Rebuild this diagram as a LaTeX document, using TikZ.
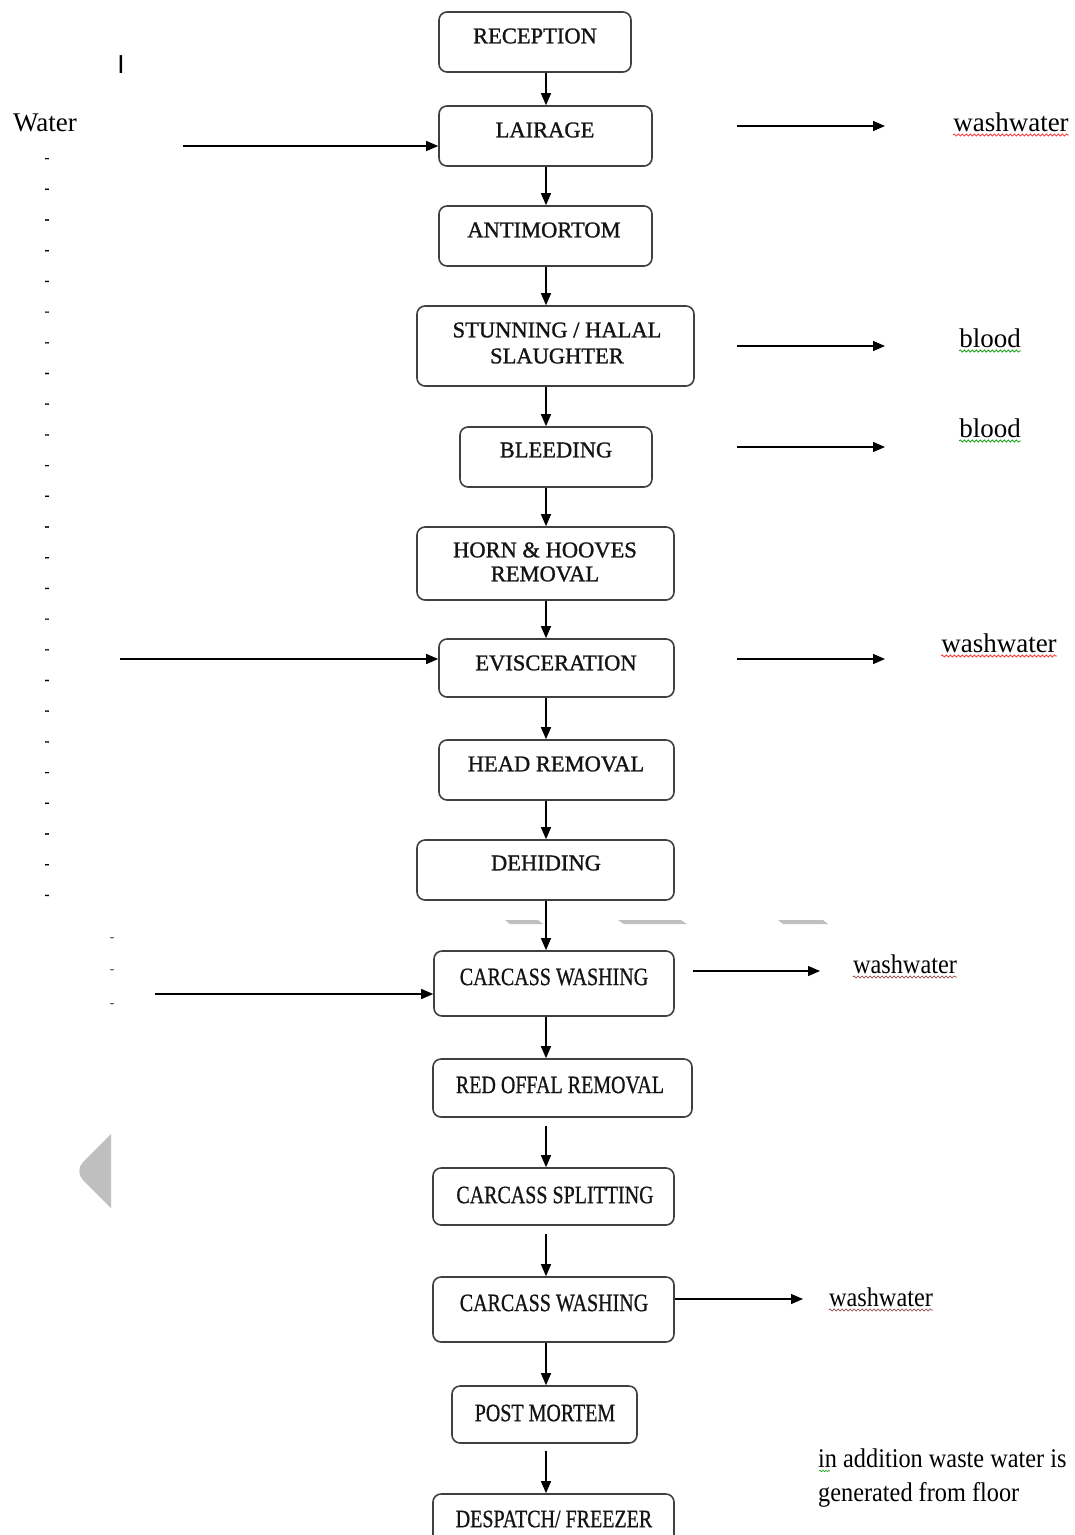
\documentclass[tikz,border=0pt]{standalone}
\usepackage{fontspec}
\setmainfont{Liberation Serif}
\newfontfamily\boxfont[FakeBold=1.2]{Liberation Serif}
\newfontfamily\lowboxfont[FakeBold=0.8]{Liberation Serif}
\newfontfamily\barfont{Liberation Sans}
\usetikzlibrary{arrows.meta,decorations.pathmorphing,calc}
\newcommand\narrowtxt[1]{\scalebox{0.8}[1]{#1}}
\newcommand\narrowlbl[1]{\scalebox{0.9}[1]{#1}}
\begin{document}
\begin{tikzpicture}[x=1pt,y=-1pt,
  box/.style={draw=black!75, line width=1.6pt, rounded corners=8pt, inner sep=0pt},
  utxt/.style={font=\boxfont\fontsize{22.5}{27}\selectfont, align=center, inner sep=0pt, text=black!92},
  ltxt/.style={font=\lowboxfont\fontsize{25}{28}\selectfont, inner sep=0pt, text=black!92},
  side/.style={font=\fontsize{27}{30}\selectfont, inner sep=0pt, anchor=base},
  arr/.style={line width=1.4pt, -{Triangle[length=12pt,width=10pt]}},
  redwave/.style={draw=red!85, line width=0.7pt, decorate, decoration={snake, amplitude=1.1pt, segment length=4pt}},
  greenwave/.style={draw=green!60!black, line width=0.7pt, decorate, decoration={snake, amplitude=1.1pt, segment length=4pt}},
  dashtxt/.style={font=\boxfont\fontsize{14}{14}\selectfont, inner sep=0pt}
]
\useasboundingbox (0,0) rectangle (1075,1535);
\clip (0,0) rectangle (1075,1535);
\fill[white] (0,0) rectangle (1075,1535);

% ---------- process boxes ----------
\node[box, minimum width=192pt, minimum height=60pt] (b1) at (535,42) {};
\node[box, minimum width=213pt, minimum height=60pt] (b2) at (545.5,136) {};
\node[box, minimum width=213pt, minimum height=60pt] (b3) at (545.5,236) {};
\node[box, minimum width=277pt, minimum height=80pt] (b4) at (555.5,346) {};
\node[box, minimum width=192pt, minimum height=60pt] (b5) at (556,457) {};
\node[box, minimum width=257pt, minimum height=73pt] (b6) at (545.5,563.5) {};
\node[box, minimum width=235pt, minimum height=58pt] (b7) at (556.5,668) {};
\node[box, minimum width=235pt, minimum height=60pt] (b8) at (556.5,770) {};
\node[box, minimum width=257pt, minimum height=60pt] (b9) at (545.5,870) {};
\node[box, minimum width=240pt, minimum height=65pt] (b10) at (554,983.5) {};
\node[box, minimum width=259pt, minimum height=58pt] (b11) at (562.5,1088) {};
\node[box, minimum width=241pt, minimum height=57pt] (b12) at (553.5,1196.5) {};
\node[box, minimum width=241pt, minimum height=65pt] (b13) at (553.5,1309.5) {};
\node[box, minimum width=185pt, minimum height=57pt] (b14) at (544.5,1414.5) {};
\node[box, minimum width=241pt, minimum height=60pt] (b15) at (553.5,1524) {};

% ---------- box texts ----------
\node[utxt] (t1) at (535,36) {RECEPTION};
\node[utxt] (t2) at (545,130) {LAIRAGE};
\node[utxt] (t3) at (544,230) {ANTIMORTOM};
\node[utxt] (t4a) at (557,330) {STUNNING / HALAL};
\node[utxt] (t4b) at (557,356) {SLAUGHTER};
\node[utxt] (t5) at (556,450) {BLEEDING};
\node[utxt] (t6a) at (545,550) {HORN \& HOOVES};
\node[utxt] (t6b) at (545,574) {REMOVAL};
\node[utxt] (t7) at (556,663) {EVISCERATION};
\node[utxt] (t8) at (556,764) {HEAD REMOVAL};
\node[utxt] (t9) at (546,863) {DEHIDING};
\node[ltxt] (t10) at (554,977) {\narrowtxt{CARCASS WASHING}};
\node[ltxt] (t11) at (560,1085) {\narrowtxt{RED OFFAL REMOVAL}};
\node[ltxt] (t12) at (555,1195) {\narrowtxt{CARCASS SPLITTING}};
\node[ltxt] (t13) at (554,1303) {\narrowtxt{CARCASS WASHING}};
\node[ltxt] (t14) at (545,1413) {\narrowtxt{POST MORTEM}};
\node[ltxt] (t15) at (554,1519) {\narrowtxt{DESPATCH/ FREEZER}};

% ---------- vertical flow ----------
\coordinate (ax) at (546,0);
\draw[arr] (b1.south -| ax) -- (b2.north -| ax);
\draw[arr] (b2.south -| ax) -- (b3.north -| ax);
\draw[arr] (b3.south -| ax) -- (b4.north -| ax);
\draw[arr] (b4.south -| ax) -- (b5.north -| ax);
\draw[arr] (b5.south -| ax) -- (b6.north -| ax);
\draw[arr] (b6.south -| ax) -- (b7.north -| ax);
\draw[arr] (b7.south -| ax) -- (b8.north -| ax);
\draw[arr] (b8.south -| ax) -- (b9.north -| ax);
\draw[arr] (b9.south -| ax) -- (b10.north -| ax);
\draw[arr] (b10.south -| ax) -- (b11.north -| ax);
\draw[arr, shorten <=8pt] (b11.south -| ax) -- (b12.north -| ax);
\draw[arr, shorten <=8pt] (b12.south -| ax) -- (b13.north -| ax);
\draw[arr] (b13.south -| ax) -- (b14.north -| ax);
\draw[arr, shorten <=7pt] (b14.south -| ax) -- (b15.north -| ax);

% ---------- water inputs ----------
\node[side] (water) at (45,131) {Water};
\coordinate (in1) at (183,146);
\coordinate (in2) at (120,659);
\coordinate (in3) at (155,994);
\draw[arr] (in1) -- (in1 -| b2.west);
\draw[arr] (in2) -- (in2 -| b7.west);
\draw[arr] (in3) -- (in3 -| b10.west);

% ---------- outputs ----------
\coordinate (o1s) at (737,126);  \coordinate (o1e) at (885,126);
\coordinate (o2s) at (737,346);  \coordinate (o2e) at (885,346);
\coordinate (o3s) at (737,447);  \coordinate (o3e) at (885,447);
\coordinate (o4s) at (737,659);  \coordinate (o4e) at (885,659);
\coordinate (o5s) at (693,971);  \coordinate (o5e) at (820,971);
\coordinate (o6e) at (803,1299);
\draw[arr] (o1s) -- (o1e);
\draw[arr] (o2s) -- (o2e);
\draw[arr] (o3s) -- (o3e);
\draw[arr] (o4s) -- (o4e);
\draw[arr] (o5s) -- (o5e);
\draw[arr] (b13.east |- o6e) -- (o6e);

\node[side] (ww1) at (1011,131) {washwater};
\node[side] (bl1) at (990,347) {blood};
\node[side] (bl2) at (990,437) {blood};
\node[side] (ww2) at (999,652) {washwater};
\node[side] (ww3) at (905,973) {\narrowlbl{washwater}};
\node[side] (ww4) at (881,1306) {\narrowlbl{washwater}};
\draw[redwave] ($(ww1.base west)+(0,4)$) -- ($(ww1.base east)+(0,4)$);
\draw[greenwave] ($(bl1.base west)+(0,4)$) -- ($(bl1.base east)+(0,4)$);
\draw[greenwave] ($(bl2.base west)+(0,4)$) -- ($(bl2.base east)+(0,4)$);
\draw[redwave] ($(ww2.base west)+(0,4)$) -- ($(ww2.base east)+(0,4)$);
\draw[redwave, draw=red!40!black!70] ($(ww3.base west)+(0,4)$) -- ($(ww3.base east)+(0,4)$);
\draw[redwave, draw=red!40!black!70] ($(ww4.base west)+(0,4)$) -- ($(ww4.base east)+(0,4)$);

% ---------- note ----------
\node[side, anchor=base west] (n1) at (818,1467) {\narrowlbl{in addition waste water is}};
\node[side, anchor=base west] (n2) at (818,1501) {\narrowlbl{generated from floor}};
\draw[greenwave, line width=0.5pt, decoration={snake, amplitude=0.8pt, segment length=3pt}] (819,1471) -- (830,1471);

% ---------- stray marks ----------
\node[font=\barfont\fontsize{26}{26}\selectfont, inner sep=0pt] (ibar) at (121,65) {I};
\foreach \i in {0,...,24} {
  \node[dashtxt] (d\i) at (47,{160+30.7*\i}) {-};
}
\node[dashtxt, text=black!60] (f1) at (112,939) {-};
\node[dashtxt, text=black!60] (f2) at (112,971) {-};
\node[dashtxt, text=black!60] (f3) at (112,1005) {-};

% gray stripes
\fill[black!25] (505,920) -- (538,920) -- (543,924) -- (510,924) -- cycle;
\fill[black!25] (618,920) -- (681,920) -- (687,924) -- (624,924) -- cycle;
\fill[black!25] (778,920) -- (823,920) -- (828,924) -- (783,924) -- cycle;
% gray triangle
\fill[black!25] (111,1134) -- (111,1208) -- (83,1180) .. controls (78,1175) and (78,1167) .. (83,1162) -- cycle;
\end{tikzpicture}
\end{document}
